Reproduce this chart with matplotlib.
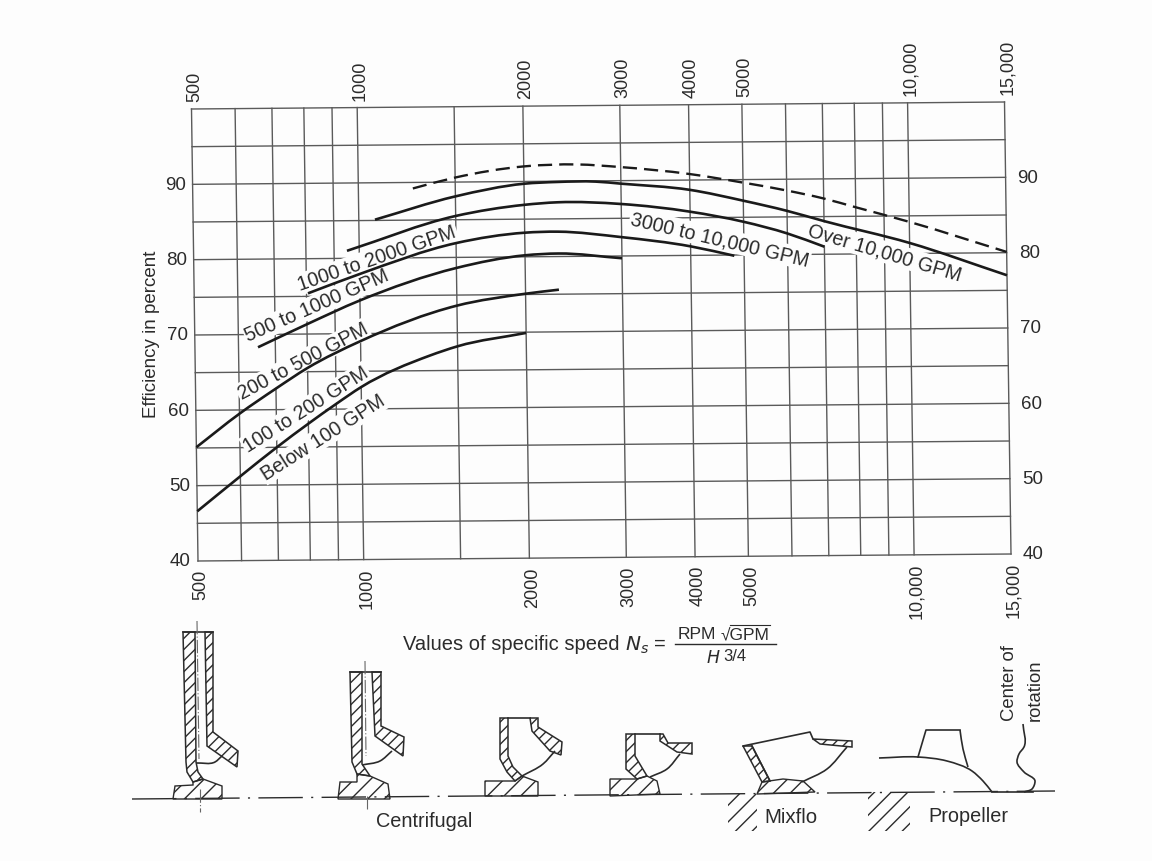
import matplotlib
matplotlib.use('Agg')
import matplotlib.pyplot as plt
import numpy as np
from matplotlib.patches import Polygon, PathPatch
from matplotlib.path import Path
from matplotlib.transforms import Affine2D

plt.rcParams['font.family'] = ['Liberation Sans', 'DejaVu Sans']
plt.rcParams['hatch.linewidth'] = 1.0

INK = '#2b2b2b'
GRID = '#5a5a5a'
PAPER = '#fdfdfd'

# specific speed grid and efficiency grid
x_grid = [500, 600, 700, 800, 900, 1000, 1500, 2000, 3000, 4000, 5000, 6000, 7000, 8000, 9000, 10000, 15000]
y_grid = [40, 45, 50, 55, 60, 65, 70, 75, 80, 85, 90, 95, 100]
x_ticks = [500, 1000, 2000, 3000, 4000, 5000, 10000, 15000]
x_labels = ['500', '1000', '2000', '3000', '4000', '5000', '10,000', '15,000']
y_ticks = [40, 50, 60, 70, 80, 90]

# curves
dash_n = [1256, 1500, 2000, 2500, 3000, 4000, 5000, 6000, 7000, 8000, 10000, 15000]
dash_e = [89.2, 90.6, 92.0, 92.2, 91.8, 90.8, 89.6, 88.5, 87.4, 86.2, 84.2, 80.1]
over_n = [1070, 1500, 2000, 2300, 2700, 3000, 4000, 5000, 6000, 7000, 10000, 15000]
over_e = [85.1, 88.1, 89.7, 89.9, 89.9, 89.6, 88.7, 87.2, 85.8, 84.4, 81.4, 77.0]
g3000_n = [950, 1500, 2000, 2300, 3000, 4000, 5000, 6000, 7000]
g3000_e = [81.0, 85.5, 86.9, 87.2, 86.9, 85.8, 84.4, 82.8, 81.0]
g1000_n = [805, 1000, 1500, 2000, 2300, 3000, 4000, 4800]
g1000_e = [75.4, 77.9, 81.9, 83.2, 83.3, 82.5, 81.2, 79.9]
g500_n = [651, 800, 1000, 1500, 2000, 2300, 3000]
g500_e = [68.3, 71.3, 74.4, 78.6, 80.2, 80.4, 79.7]
g200_n = [500, 600, 700, 800, 1000, 1500, 2000, 2300]
g200_e = [55.1, 59.5, 62.8, 65.5, 69.0, 73.6, 75.1, 75.6]
g100_n = [500, 600, 700, 800, 900, 1000, 1335, 1500, 2000]
g100_e = [46.6, 51.2, 55.0, 58.1, 60.7, 62.9, 67.0, 68.2, 69.9]


def smooth(xs, ys, t=None):
    # hermite through the read points, as bezier segments
    p = np.column_stack([xs, ys]).astype(float)
    if t is None:
        t = np.r_[0, np.cumsum(np.hypot(*np.diff(p, axis=0).T))]
    m = np.gradient(p, t, axis=0)
    verts = [p[0]]
    for i in range(len(p) - 1):
        dt = (t[i + 1] - t[i]) / 3
        verts += [p[i] + m[i] * dt, p[i + 1] - m[i + 1] * dt, p[i + 1]]
    codes = [Path.MOVETO] + [Path.CURVE4] * (len(verts) - 1)
    return np.array(verts), codes


def log_curve(n, e):
    lx = np.log10(n)
    verts, codes = smooth(lx, e, lx)
    verts[:, 0] = 10 ** verts[:, 0]
    return Path(verts, codes)


fig = plt.figure(figsize=(11.52, 8.62), dpi=100, facecolor=PAPER)
ax = fig.add_axes([198 / 1152, 300 / 862, 813 / 1152, 452 / 862])
ax.set_xscale('log')
ax.set_xlim(500, 15000)
ax.set_ylim(40, 100)
ax.autoscale(False)
ax.axis('off')

# the scan is slightly skewed
scan = Affine2D().translate(-198, -300) + Affine2D.from_values(1, 7 / 813, -6.5 / 452, 1, 0, 0) + Affine2D().translate(198, 300)
rot = ax.transData + scan
# picture pixels, y going down, for the drawings
px = Affine2D().scale(1, -1).translate(0, 862)

for n in x_grid:
    ax.plot([n, n], [40, 100], color=GRID, lw=1.0, transform=rot, clip_on=False, zorder=1)
for e in y_grid:
    ax.plot([500, 15000], [e, e], color=GRID, lw=1.0, transform=rot, clip_on=False, zorder=1)

for n, t in zip(x_ticks, x_labels):
    ax.annotate(t, xy=(n, 100), xycoords=rot, xytext=(3, 8), textcoords='offset pixels',
                rotation=90, ha='center', va='bottom', fontsize=13, color=INK)
    ax.annotate(t, xy=(n, 40), xycoords=rot, xytext=(3, -8), textcoords='offset pixels',
                rotation=90, ha='center', va='top', fontsize=13, color=INK)
for e in y_ticks:
    ax.annotate(str(e), xy=(500, e), xycoords=rot, xytext=(-7, 0), textcoords='offset pixels',
                ha='right', va='center', fontsize=13.5, color=INK)
    ax.annotate(str(e), xy=(15000, e), xycoords=rot, xytext=(12, 0), textcoords='offset pixels',
                ha='left', va='center', fontsize=13.5, color=INK)

for n, e in [(over_n, over_e), (g3000_n, g3000_e), (g1000_n, g1000_e),
             (g500_n, g500_e), (g200_n, g200_e), (g100_n, g100_e)]:
    ax.add_patch(PathPatch(log_curve(n, e), fc='none', ec='#1a1a1a', lw=1.9, transform=rot, clip_on=False, zorder=4))
ax.add_patch(PathPatch(log_curve(dash_n, dash_e), fc='none', ec='#1a1a1a', lw=1.7, linestyle=(0, (6, 3)),
                       transform=rot, clip_on=False, zorder=4))

# curve labels, with the gap they leave in the grid
curve_labels = [('1000 to 2000 GPM', 377, 259, 19), ('500 to 1000 GPM', 317, 306, 23.6),
                ('200 to 500 GPM', 303, 362, 27.8), ('100 to 200 GPM', 306, 410, 32.3),
                ('Below 100 GPM', 323, 438, 32.6), ('3000 to 10,000 GPM', 720, 240, -13.3),
                ('Over 10,000 GPM', 885, 253, -16.6)]
for t, x, y, r in curve_labels:
    ax.text(x, y, t, transform=px, rotation=r, rotation_mode='anchor', ha='center', va='center',
            fontsize=14.2, color=INK, zorder=3, bbox=dict(fc=PAPER, ec='none', pad=1))

ax.text(152, 334, 'Efficiency in percent', transform=px, rotation=90, ha='center', va='center',
        fontsize=13.5, color=INK)

# formula under the chart
ax.text(403, 645, 'Values of specific speed', transform=px, ha='left', va='center', fontsize=14.5, color=INK)
ax.text(625, 645, '$N_s$ =', transform=px, ha='left', va='center', fontsize=14.5, color=INK,
        math_fontfamily='dejavusans')
ax.text(678, 635, 'RPM', transform=px, ha='left', va='center', fontsize=12.5, color=INK)
ax.text(721, 635, '\u221aGPM', transform=px, ha='left', va='center', fontsize=12.5, color=INK)
ax.plot([730, 770], [626, 626], color=INK, lw=0.8, transform=px, clip_on=False)
ax.plot([675, 776], [645, 645], color=INK, lw=1.0, transform=px, clip_on=False)
ax.text(706, 658, '$H$', transform=px, ha='left', va='center', fontsize=12.5, color=INK,
        math_fontfamily='dejavusans')
ax.text(723, 657, '3/4', transform=px, ha='left', va='center', fontsize=12, color=INK)

ax.text(424, 822, 'Centrifugal', transform=px, ha='center', va='center', fontsize=14.3, color=INK)
ax.text(791, 818, 'Mixflo', transform=px, ha='center', va='center', fontsize=14.8, color=INK)
ax.text(968, 817, 'Propeller', transform=px, ha='center', va='center', fontsize=14.3, color=INK)
ax.text(1010, 721, 'Center of', transform=px, rotation=90, ha='center', va='bottom', fontsize=13.3, color=INK)
ax.text(1035, 721, 'rotation', transform=px, rotation=90, ha='center', va='bottom', fontsize=13.3, color=INK)

# impeller sections, outlines in picture pixels
strips = [
    [(183, 633), (195, 633), (196, 763), (198, 773), (203, 780), (193, 783), (187, 773), (186, 763)],
    [(205, 633), (213, 633), (213, 733), (238, 752), (237, 768), (207, 747)],
    [(350, 673), (362, 673), (362, 765), (370, 777), (357, 775), (352, 763)],
    [(372, 673), (381, 673), (381, 727), (404, 738), (403, 757), (375, 737)],
    [(500, 719), (508, 719), (508, 757), (513, 768), (522, 777), (515, 782), (507, 773), (500, 760)],
    [(530, 719), (538, 719), (538, 728), (562, 743), (561, 756), (550, 752), (532, 732)],
    [(626, 735), (635, 735), (635, 757), (647, 777), (637, 780), (626, 770)],
    [(660, 735), (663, 735), (668, 744), (692, 744), (692, 755), (677, 753), (660, 742)],
    [(743, 747), (752, 747), (770, 782), (762, 783)],
    [(813, 740), (852, 742), (852, 748), (820, 745)],
]
hubs = [
    [(173, 800), (175, 787), (193, 786), (193, 783), (203, 780), (222, 787), (222, 800)],
    [(338, 800), (340, 783), (357, 783), (357, 775), (370, 777), (388, 785), (390, 800)],
    [(485, 797), (485, 782), (507, 782), (515, 782), (522, 777), (538, 783), (538, 797)],
    [(610, 797), (610, 780), (637, 780), (647, 777), (657, 782), (660, 795)],
    [(757, 795), (762, 783), (783, 780), (803, 782), (815, 793)],
]
for p in strips:
    ax.add_patch(Polygon(p, closed=True, fc='none', ec=INK, hatch='///', lw=1.1, transform=px,
                         clip_on=False, zorder=2))
for p in hubs:
    ax.add_patch(Polygon(p, closed=True, fc='none', ec=INK, hatch='//', lw=1.0, transform=px,
                         clip_on=False, zorder=2))
# hatching below the axis line, no outline
for p in [[(728, 795), (757, 795), (757, 832), (728, 832)], [(868, 793), (910, 793), (910, 832), (868, 832)]]:
    ax.add_patch(Polygon(p, closed=True, fc='none', ec=INK, hatch='//', lw=0, transform=px,
                         clip_on=False, zorder=2))

straight = [
    [(183, 633), (213, 633)],
    [(350, 673), (381, 673)],
    [(508, 719), (530, 719)],
    [(635, 735), (660, 735)],
    [(743, 747), (810, 733), (813, 740)],
    [(752, 747), (770, 782)],
    [(918, 758), (926, 731), (960, 731)],
]
for p in straight:
    xs, ys = zip(*p)
    ax.plot(xs, ys, color=INK, lw=1.2, transform=px, clip_on=False, zorder=2)

bent = [
    [(196, 764), (215, 763), (222, 757)],
    [(362, 766), (380, 762), (392, 752)],
    [(522, 777), (543, 765), (555, 752)],
    [(650, 778), (667, 770), (680, 755)],
    [(847, 748), (827, 770), (802, 783)],
    [(960, 731), (963, 750), (968, 768)],
    [(879, 759), (918, 758), (947, 762), (972, 772), (983, 782), (992, 793)],
    [(1023, 725), (1024, 748), (1019, 755), (1017, 763), (1024, 773), (1035, 782), (1032, 790), (1024, 793)],
]
for p in bent:
    xs, ys = zip(*p)
    v, c = smooth(xs, ys)
    ax.add_patch(PathPatch(Path(v, c), fc='none', ec=INK, lw=1.2, transform=px, clip_on=False, zorder=2))
ax.plot([992, 1033], [793, 793], color=INK, lw=1.2, transform=px, clip_on=False, zorder=2)

# axis of rotation and the impeller centre lines
ax.plot([132, 1055], [800, 792], color=INK, lw=1.0, linestyle=(0, (32, 6, 1.5, 6)), transform=px, clip_on=False, zorder=2)
for p in [[(197, 622), (199, 760)], [(200, 790), (200, 813)], [(365, 662), (366, 757)], [(367, 797), (367, 810)]]:
    xs, ys = zip(*p)
    ax.plot(xs, ys, color='#666666', lw=0.8, linestyle=(0, (12, 2, 1, 2)), transform=px, clip_on=False, zorder=2)

fig.savefig('out.png', dpi=100, facecolor=fig.get_facecolor())
